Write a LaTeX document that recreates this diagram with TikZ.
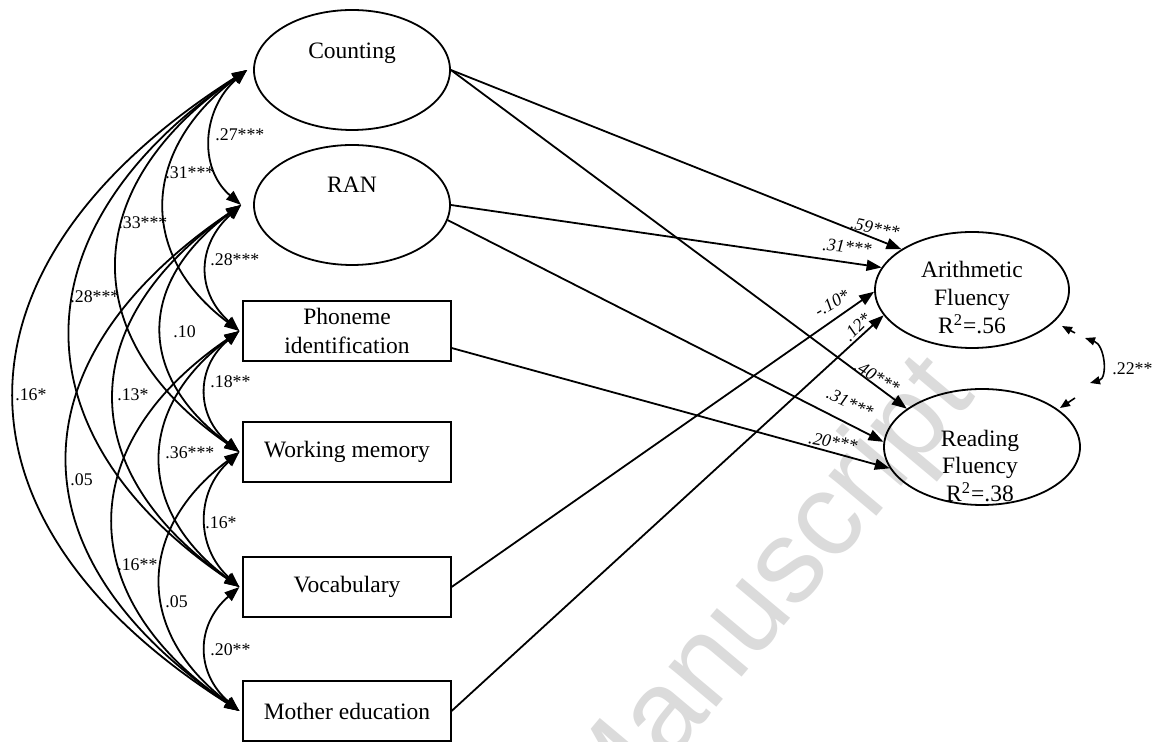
\documentclass[tikz,border=0pt]{standalone}
\usepackage{fontspec}
\setmainfont{Liberation Serif}
\newfontfamily\wmfont{Liberation Sans}
\usetikzlibrary{shapes.geometric,arrows.meta,calc}
\newcommand\covarc[4]{\draw[cov] (#1) .. controls ($(#1)+(-#3,#4)$) and ($(#2)+(-#3,-#4)$) .. (#2);}
\begin{document}
\begin{tikzpicture}[x=0.5pt,y=-0.5pt,
  latent/.style={draw, line width=0.9pt, ellipse, minimum width=98pt, minimum height=60pt, inner sep=0pt},
  obs/.style={draw, line width=0.6pt, rectangle, minimum width=104pt, minimum height=30pt, inner sep=0pt, align=center, font=\fontsize{11.75}{14.5}\selectfont},
  txt/.style={inner sep=0pt, anchor=base, font=\fontsize{11.75}{14.5}\selectfont},
  reg/.style={line width=0.9pt, -{Triangle[length=7.5pt,width=5.5pt]}},
  cov/.style={line width=0.9pt, {Triangle[length=7.5pt,width=5.5pt]}-{Triangle[length=7.5pt,width=5.5pt]}},
  res/.style={line width=0.8pt, -{Triangle[length=5pt,width=4pt]}},
  cov2/.style={line width=0.8pt, {Triangle[length=5pt,width=4pt]}-{Triangle[length=5pt,width=4pt]}},
  clab/.style={inner sep=0pt, anchor=west, font=\fontsize{8.9}{10}\selectfont},
  rlab/.style={inner sep=0pt, font=\fontsize{8.9}{10}\selectfont\itshape},
  wm/.style={inner sep=0pt, text=black!14, font=\wmfont\fontsize{59}{59}\selectfont},
]
\useasboundingbox (0,0) rectangle (1158,742);
\fill[white] (0,0) rectangle (1158,742);

% watermark
\node[wm, rotate=50] (wmk) at (768,598) {Manuscript};

% exogenous
\node[latent] (cnt) at (352,70) {};
\node[txt] (cntT) at (352,59) {Counting};
\node[latent] (ran) at (352,205) {};
\node[txt] (ranT) at (352,193) {RAN};
\node[obs] (phon) at (347,331) {Phoneme\\identification};
\node[obs] (wm) at (347,452) {Working memory};
\node[obs] (voc) at (347,587) {Vocabulary};
\node[obs] (moth) at (347,711) {Mother education};

% endogenous
\node[latent, minimum width=97pt, minimum height=58pt] (arith) at (972,290) {};
\node[txt] (ar1) at (972,278) {Arithmetic};
\node[txt] (ar2) at (972,306) {Fluency};
\node[txt] (ar3) at (972,334) {R\textsuperscript{2}=.56};
\node[latent, minimum width=98pt, minimum height=58pt] (read) at (982,447) {};
\node[txt] (rd1) at (980,447) {Reading};
\node[txt] (rd2) at (980,474) {Fluency};
\node[txt] (rd3) at (980,502) {R\textsuperscript{2}=.38};

% covariance tips
\coordinate (cT) at ([xshift=-3pt]cnt.west);
\coordinate (rT) at ([xshift=-6pt]ran.west);
\coordinate (pT) at ([xshift=-1.5pt]phon.west);
\coordinate (wT) at ([xshift=-1.5pt]wm.west);
\coordinate (vT) at ([xshift=-1.5pt]voc.west);
\coordinate (mT) at ([xshift=-1.5pt]moth.west);

\covarc{cT}{rT}{44}{38}
\covarc{cT}{pT}{104}{78}
\covarc{cT}{wT}{167}{115}
\covarc{cT}{vT}{229}{155}
\covarc{cT}{mT}{304}{193}
\covarc{rT}{pT}{44}{40}
\covarc{rT}{wT}{104}{77}
\covarc{rT}{vT}{167}{117}
\covarc{rT}{mT}{229}{155}
\covarc{pT}{wT}{44}{36}
\covarc{pT}{vT}{104}{77}
\covarc{pT}{mT}{167}{114}
\covarc{wT}{vT}{44}{40}
\covarc{wT}{mT}{104}{78}
\covarc{vT}{mT}{44}{38}

% covariance labels
\node[clab] (l1) at (215,135) {.27***};
\node[clab] (l2) at (165,173) {.31***};
\node[clab] (l3) at (118,223) {.33***};
\node[clab] (l4) at (70,297) {.28***};
\node[clab] (l5) at (15,395) {.16*};
\node[clab] (l6) at (210,260) {.28***};
\node[clab] (l7) at (173,332) {.10};
\node[clab] (l8) at (117,395) {.13*};
\node[clab] (l9) at (70,480) {.05};
\node[clab] (l10) at (210,382) {.18**};
\node[clab] (l11) at (165,453) {.36***};
\node[clab] (l12) at (117,565) {.16**};
\node[clab] (l13) at (205,523) {.16*};
\node[clab] (l14) at (165,602) {.05};
\node[clab] (l15) at (210,650) {.20**};

% regressions
\draw[reg] (cnt.east) -- (arith.150);
\draw[reg] (ran.east) -- (arith.166);
\draw[reg] (voc.east) -- (arith.181);
\draw[reg] (moth.east) -- (arith.196);
\draw[reg] (cnt.east) -- (read.153);
\draw[reg] (ran.-9) -- (read.177);
\draw[reg] ([yshift=-8.5pt]phon.east) -- (read.193);

\node[rlab, rotate=-12] (r1) at (875,228) {.59***};
\node[rlab, rotate=-5] (r2) at (847,247) {.31***};
\node[rlab, rotate=30] (r3) at (832,303) {-.10*};
\node[rlab, rotate=45] (r4) at (857,327) {.12*};
\node[rlab, rotate=-31] (r5) at (877,377) {.40***};
\node[rlab, rotate=-25] (r6) at (850,403) {.31***};
\node[rlab, rotate=-10] (r7) at (833,442) {.20***};

% residual covariance
\coordinate (aS) at (1075,333);
\coordinate (aE) at (1062,326);
\coordinate (bS) at (1075,398);
\coordinate (bE) at (1060,408);
\coordinate (c1) at (1085,338);
\coordinate (c2) at (1090,383);
\draw[res] (aS) -- (aE);
\draw[res] (bS) -- (bE);
\draw[cov2] (c1) .. controls ($(c1)+(20,7)$) and ($(c2)+(18,-5)$) .. (c2);
\node[clab] (l22) at (1112,369) {.22**};
\end{tikzpicture}
\end{document}
